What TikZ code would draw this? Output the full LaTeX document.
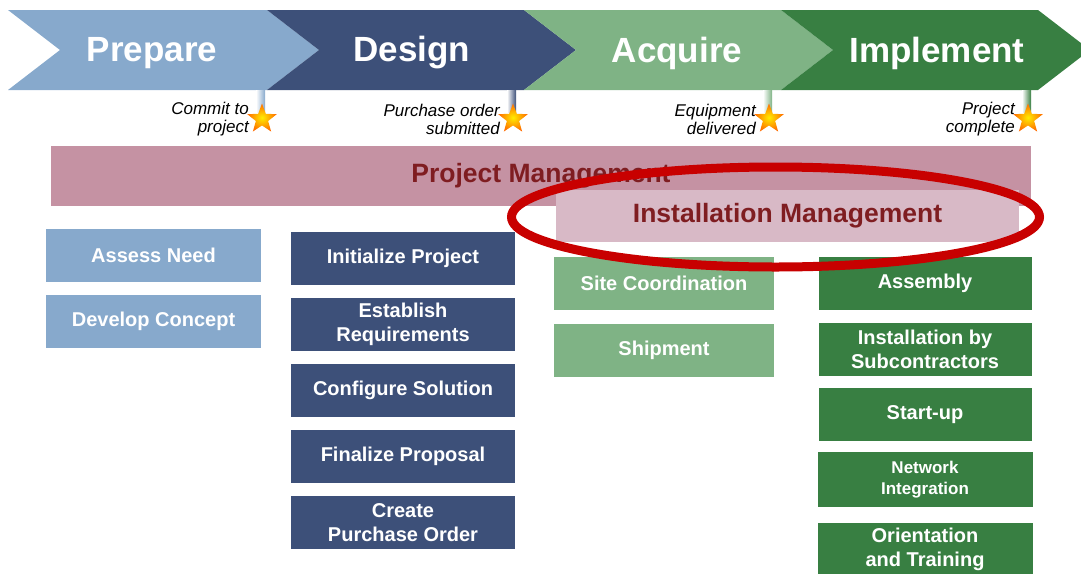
\documentclass[tikz,border=0pt]{standalone}
\usepackage{fontspec}
\setmainfont{Liberation Sans}
\usetikzlibrary{positioning,shapes.geometric}
\definecolor{prepc}{HTML}{87A9CC}
\definecolor{dsgnc}{HTML}{3D5079}
\definecolor{acqc}{HTML}{7FB385}
\definecolor{implc}{HTML}{387F42}
\definecolor{pmc}{HTML}{C592A3}
\definecolor{pmtext}{HTML}{7F1D21}
\definecolor{imc}{HTML}{D8B9C6}
\definecolor{ringc}{HTML}{C80000}
\tikzset{
    phase/.style={
           text=white,
           font=\fontsize{35}{40}\selectfont\bfseries
           },
    task/.style={
           rectangle,
           minimum height=53pt,
           inner sep=0pt,
           text=white,
           align=center,
           font=\fontsize{20}{24}\selectfont\bfseries
           },
    prepbox/.style={task, fill=prepc, minimum width=215pt},
    dsgnbox/.style={task, fill=dsgnc, minimum width=224pt},
    acqbox/.style={task, fill=acqc, minimum width=220pt},
    implbox/.style={task, fill=implc, minimum width=213pt},
    mgmt/.style={
           rectangle,
           text=pmtext,
           font=\fontsize{26.5}{30}\selectfont\bfseries
           },
    mstar/.style={
           star, star points=5,
           star point ratio=2.4,
           minimum size=31pt,
           inner sep=0pt,
           inner color=yellow!85!orange,
           outer color=orange!85!red
           },
    mlabel/.style={
           anchor=east,
           align=right,
           inner sep=0pt,
           font=\fontsize{17}{18}\selectfont\itshape
           }
}
\begin{document}
\begin{tikzpicture}[x=1pt, y=-1pt, node distance=66pt, on grid]
\useasboundingbox (0,0) rectangle (1081,573);
\clip (0,0) rectangle (1081,573);
   % phase chevrons
   \foreach \xa/\xb/\col in {8/267/prepc, 267/524/dsgnc, 524/781/acqc, 781/1038/implc}
      \fill[\col] (\xa,10) -- (\xb,10) -- (\xb+52,50) -- (\xb,90) -- (\xa,90) -- (\xa+52,50) -- cycle;
   \node[phase] (prep) at (152,53) {Prepare};
   \node[phase] (dsgn) at (412,53) {Design};
   \node[phase] (acq)  at (677,53) {Acquire};
   \node[phase] (impl) at (937,53) {Implement};
   % milestones
   \foreach \c/\col [count=\i] in {262/prepc, 513/dsgnc, 769/acqc, 1028/implc}{
      \shade[left color=white, right color=\col] (\c-6,90) rectangle (\c+3,112);
      \node[mstar] (m\i) at (\c,119) {};
   }
   \node[mlabel] (t1) at ([xshift=-13pt]m1.center) {Commit to\\project};
   \node[mlabel] (t2) at ([xshift=-13pt]m2.center) {Purchase order\\submitted};
   \node[mlabel] (t3) at ([xshift=-13pt]m3.center) {Equipment\\delivered};
   \node[mlabel] (t4) at ([xshift=-13pt]m4.center) {Project\\complete};
   % management bars
   \node[mgmt, fill=pmc, minimum width=980pt, minimum height=60pt] (pm) at (541,176) {Project Management};
   \node[mgmt, fill=imc, minimum width=463pt, minimum height=52pt] (im) at (787.5,216) {Installation Management};
   % tasks
   \node[prepbox] (an) at (153.5,255.5) {Assess Need};
   \node[prepbox] (dc) [below=of an] {Develop Concept};
   \node[dsgnbox] (ip) at (403,258.5) {Initialize Project};
   \node[dsgnbox] (er) [below=of ip] {Establish\\Requirements};
   \node[dsgnbox] (cs) [below=of er] {Configure Solution};
   \node[dsgnbox] (fp) [below=of cs] {Finalize Proposal};
   \node[dsgnbox] (po) [below=of fp] {Create\\Purchase Order};
   \node[acqbox] (sc) at (664,283.5) {Site Coordination};
   \node[acqbox] (sh) [below=67pt of sc] {Shipment};
   \node[implbox] (as) at (925,283.5) {Assembly};
   \node[implbox] (ins) [below=of as] {Installation by\\Subcontractors};
   \node[implbox] (su) [below=65pt of ins] {Start-up};
   \node[implbox, minimum width=215pt, minimum height=55pt,
         font=\fontsize{17}{21}\selectfont\bfseries] (ni) [below=65pt of su] {Network\\Integration};
   \node[implbox, minimum width=215pt] (ot) [below=70pt of ni] {Orientation\\and Training};
   % highlight ring
   \draw[ringc, line width=9pt] ([xshift=-12pt,yshift=-1pt]im.center) ellipse [x radius=264, y radius=50];
\end{tikzpicture}
\end{document}
